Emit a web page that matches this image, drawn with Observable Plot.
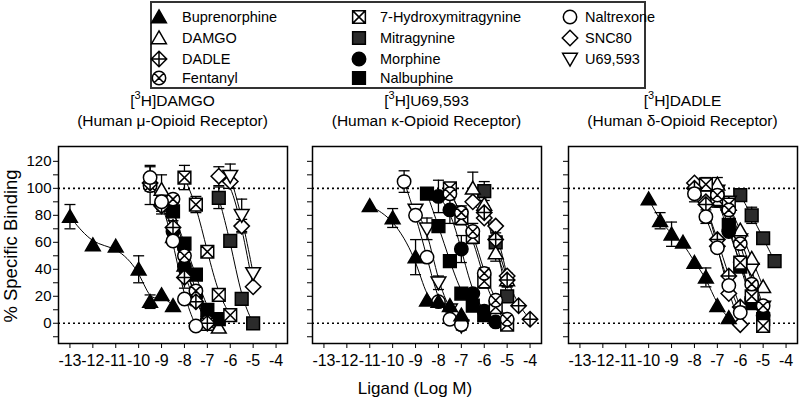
<!DOCTYPE html>
<html><head><meta charset="utf-8">
<script src="https://cdn.jsdelivr.net/npm/d3@7"></script>
<script src="https://cdn.jsdelivr.net/npm/@observablehq/plot@0.6"></script>
<style>
body{margin:0;background:#fff;font-family:"Liberation Sans",Arial,sans-serif;color:#000;}
#root{position:relative;width:799px;height:401px;overflow:hidden;background:#fff;}
.title{position:absolute;width:260px;text-align:center;font-size:15.5px;line-height:20px;white-space:nowrap;}
.title sup{font-size:11px;line-height:0;position:relative;top:-1px;}
#legend{position:absolute;left:150px;top:1px;width:492px;height:84px;border:2px solid #333;}
.litem{position:absolute;font-size:14.5px;white-space:nowrap;line-height:16px;}
.litem svg{position:absolute;left:0;top:0;overflow:visible;}
.litem span{position:absolute;top:0;}
</style></head><body><div id="root"></div>
<script>
// ---------------- data ----------------
const xTicks = [-13, -12, -11, -10, -9, -8, -7, -6, -5, -4];
const yTicks = [-10, 0, 10, 20, 30, 40, 50, 60, 70, 80, 90, 100, 110, 120];
const yTickLabels = [0, 20, 40, 60, 80, 100, 120];
const panelTitles = [
  ["3", "H]DAMGO", "(Human μ-Opioid Receptor)"],
  ["3", "H]U69,593", "(Human κ-Opioid Receptor)"],
  ["3", "H]DADLE", "(Human δ-Opioid Receptor)"]
];
const legendCol1 = ["Buprenorphine", "DAMGO", "DADLE", "Fentanyl"];
const legendCol2 = ["7-Hydroxymitragynine", "Mitragynine", "Morphine", "Nalbuphine"];
const legendCol3 = ["Naltrexone", "SNC80", "U69,593"];
const xLabel = "Ligand (Log M)";
const yLabel = "% Specific Binding";

// [drug, log M, % specific binding, SEM]
const muData = [
  ["Buprenorphine",-13,79,9],["Buprenorphine",-12,58,0],["Buprenorphine",-11,57,0],["Buprenorphine",-10,40,10],["Buprenorphine",-9.5,16,5],["Buprenorphine",-9,21,0],["Buprenorphine",-8.5,13,0],
  ["Naltrexone",-9.5,108,9],["Naltrexone",-9,90,0],["Naltrexone",-8.5,61,3],["Naltrexone",-8,18,0],["Naltrexone",-7.5,-2,0],
  ["Fentanyl",-9.5,102,14],["Fentanyl",-9,88,5],["Fentanyl",-8.5,92,3],["Fentanyl",-8,50,4],["Fentanyl",-7.5,24,3],["Fentanyl",-7,1,0],
  ["DAMGO",-9,99,11],["DAMGO",-8.5,64,4],["DAMGO",-8,43,5],["DAMGO",-7.5,18,4],["DAMGO",-7,-1,3],["DAMGO",-6.5,-3,0],
  ["DADLE",-9.5,104,6],["DADLE",-9,87,6],["DADLE",-8.5,71,5],["DADLE",-8,34,8],["DADLE",-7.5,16,3],["DADLE",-7,0,3],
  ["Morphine",-8.5,68,3],["Morphine",-8,42,4],["Morphine",-7.5,20,3],["Morphine",-7,3,0],
  ["Nalbuphine",-8.5,83,4],["Nalbuphine",-8,59,3],["Nalbuphine",-7.5,36,3],["Nalbuphine",-7,10,0],["Nalbuphine",-6.5,3,0],
  ["7-Hydroxymitragynine",-8,108,9],["7-Hydroxymitragynine",-7.5,88,6],["7-Hydroxymitragynine",-7,53,0],["7-Hydroxymitragynine",-6.5,21,0],["7-Hydroxymitragynine",-6,6,0],
  ["Mitragynine",-6.5,93,8],["Mitragynine",-6,61,0],["Mitragynine",-5.5,18,0],["Mitragynine",-5,0,0],
  ["SNC80",-6.5,109,7],["SNC80",-6,105,0],["SNC80",-5.5,72,5],["SNC80",-5,27,0],
  ["U69,593",-6,109,9],["U69,593",-5.5,80,12],["U69,593",-5,37,0]
];
const kappaData = [
  ["Buprenorphine",-11,87,0],["Buprenorphine",-10,78,7],["Buprenorphine",-9,49,13],["Buprenorphine",-8.5,17,0],["Buprenorphine",-8,16,0],["Buprenorphine",-7.5,13,0],["Buprenorphine",-7,6,0],
  ["Naltrexone",-9.5,105,8],["Naltrexone",-9,80,0],["Naltrexone",-8.5,49,0],["Naltrexone",-8,16,0],["Naltrexone",-7.5,3,0],["Naltrexone",-7,-1,0],
  ["U69,593",-9,84,0],["U69,593",-8.5,70,8],["U69,593",-8,30,5],["U69,593",-7.5,10,0],["U69,593",-7,-2,3],
  ["Nalbuphine",-8.5,96,0],["Nalbuphine",-8,72,0],["Nalbuphine",-7.5,46,0],["Nalbuphine",-7,22,0],["Nalbuphine",-6.5,13,0],["Nalbuphine",-6,6,0],
  ["Morphine",-8,94,12],["Morphine",-7.5,84,10],["Morphine",-7,55,10],["Morphine",-6.5,22,0],["Morphine",-6,9,0],["Morphine",-5.5,1,0],
  ["Fentanyl",-7.5,96,4],["Fentanyl",-7,82,5],["Fentanyl",-6.5,68,6],["Fentanyl",-6,37,4],["Fentanyl",-5.5,17,3],["Fentanyl",-5,3,0],
  ["7-Hydroxymitragynine",-7.5,100,3],["7-Hydroxymitragynine",-7,78,5],["7-Hydroxymitragynine",-6.5,64,5],["7-Hydroxymitragynine",-6,31,5],["7-Hydroxymitragynine",-5.5,12,3],["7-Hydroxymitragynine",-5,-1,0],
  ["DAMGO",-6.5,100,12],["DAMGO",-6,88,10],["DAMGO",-5.5,52,6],["DAMGO",-5,32,5],
  ["DADLE",-6,82,5],["DADLE",-5.5,62,5],["DADLE",-5,32,5],["DADLE",-4.5,13,0],["DADLE",-4,3,0],
  ["SNC80",-6.5,90,0],["SNC80",-6,78,0],["SNC80",-5.5,72,0],["SNC80",-5,35,0],
  ["Mitragynine",-6,98,7],["Mitragynine",-5.5,60,0],["Mitragynine",-5,20,0]
];
const deltaData = [
  ["Buprenorphine",-10,92,0],["Buprenorphine",-9.5,76,6],["Buprenorphine",-9,66,9],["Buprenorphine",-8.5,60,0],["Buprenorphine",-8,45,0],["Buprenorphine",-7.5,34,7],["Buprenorphine",-7,13,0],["Buprenorphine",-6.5,4,0],
  ["SNC80",-8,104,0],["SNC80",-7.5,90,0],["SNC80",-7,57,0],["SNC80",-6.5,22,0],["SNC80",-6,-1,0],
  ["Naltrexone",-8,96,6],["Naltrexone",-7.5,79,5],["Naltrexone",-7,56,0],["Naltrexone",-6.5,28,0],["Naltrexone",-6,8,0],
  ["DADLE",-8,100,0],["DADLE",-7.5,88,0],["DADLE",-7,62,0],["DADLE",-6.5,35,0],["DADLE",-6,12,0],
  ["7-Hydroxymitragynine",-7.5,103,5],["7-Hydroxymitragynine",-7,92,0],["7-Hydroxymitragynine",-6.5,88,0],["7-Hydroxymitragynine",-6,45,0],["7-Hydroxymitragynine",-5.5,20,0],["7-Hydroxymitragynine",-5,-2,0],
  ["DAMGO",-7,103,5],["DAMGO",-6.5,88,0],["DAMGO",-6,69,0],["DAMGO",-5.5,48,0],["DAMGO",-5,27,0],
  ["Nalbuphine",-7,93,7],["Nalbuphine",-6.5,73,0],["Nalbuphine",-6,42,0],["Nalbuphine",-5.5,15,0],["Nalbuphine",-5,3,0],
  ["Morphine",-7,91,0],["Morphine",-6.5,68,0],["Morphine",-6,45,0],["Morphine",-5.5,18,0],["Morphine",-5,6,0],
  ["Fentanyl",-7,95,0],["Fentanyl",-6.5,84,0],["Fentanyl",-6,59,0],["Fentanyl",-5.5,29,0],["Fentanyl",-5,13,0],
  ["U69,593",-7,98,0],["U69,593",-6.5,90,0],["U69,593",-6,62,0],["U69,593",-5.5,40,0],["U69,593",-5,12,0],
  ["Mitragynine",-6,95,0],["Mitragynine",-5.5,80,6],["Mitragynine",-5,63,0],["Mitragynine",-4.5,46,0]
];

// ---------------- symbols ----------------
const R = s => Math.sqrt(s / Math.PI);
function circ(c, r){ c.moveTo(r, 0); c.arc(0, 0, r, 0, 2 * Math.PI); }
function sq(c, h){ c.moveTo(-h,-h); c.lineTo(h,-h); c.lineTo(h,h); c.lineTo(-h,h); c.closePath(); }
function dia(c, h){ c.moveTo(0,-h); c.lineTo(h,0); c.lineTo(0,h); c.lineTo(-h,0); c.closePath(); }
const sym = {
  triUp: {draw(c,s){const r=R(s); c.moveTo(0,-r*1.05); c.lineTo(r*1.1,r*0.85); c.lineTo(-r*1.1,r*0.85); c.closePath();}},
  triDown: {draw(c,s){const r=R(s); c.moveTo(0,r*1.05); c.lineTo(r*1.1,-r*0.85); c.lineTo(-r*1.1,-r*0.85); c.closePath();}},
  square: {draw(c,s){sq(c, R(s)*0.95);}},
  squareX: {draw(c,s){const h=R(s)*0.95; sq(c,h); c.moveTo(-h,-h); c.lineTo(h,h); c.moveTo(h,-h); c.lineTo(-h,h);}},
  circle: {draw(c,s){circ(c, R(s));}},
  circleX: {draw(c,s){const r=R(s), a=r*0.707; circ(c,r); c.moveTo(-a,-a); c.lineTo(a,a); c.moveTo(a,-a); c.lineTo(-a,a);}},
  diamond: {draw(c,s){dia(c, R(s)*1.15);}},
  diamondPlus: {draw(c,s){const h=R(s)*1.15; dia(c,h); c.moveTo(-h,0); c.lineTo(h,0); c.moveTo(0,-h); c.lineTo(0,h);}},
  cap: {draw(c,s){const r=R(s); c.moveTo(-r,0); c.lineTo(r,0);}}
};
const drugStyle = {
  "Buprenorphine": {symbol: sym.triUp, fill: "#000"},
  "DAMGO": {symbol: sym.triUp, fill: "#fff"},
  "DADLE": {symbol: sym.diamondPlus, fill: "#fff"},
  "Fentanyl": {symbol: sym.circleX, fill: "#fff"},
  "7-Hydroxymitragynine": {symbol: sym.squareX, fill: "#fff"},
  "Mitragynine": {symbol: sym.square, fill: "#2b2b2b"},
  "Morphine": {symbol: sym.circle, fill: "#000"},
  "Nalbuphine": {symbol: sym.square, fill: "#000"},
  "Naltrexone": {symbol: sym.circle, fill: "#fff"},
  "SNC80": {symbol: sym.diamond, fill: "#fff"},
  "U69,593": {symbol: sym.triDown, fill: "#fff"}
};
const drawOrder = ["Mitragynine","SNC80","U69,593","DAMGO","Morphine","Nalbuphine","7-Hydroxymitragynine","Fentanyl","DADLE","Naltrexone","Buprenorphine"];

// ---------------- panels ----------------
const root = document.getElementById("root");
const FONT = '"Liberation Sans", Arial, sans-serif';
const toRows = arr => arr.map(([drug, x, y, sem]) => ({drug, x, y, sem}));

function panel(arr, showLabels, ml, mr, w){
  const rows = toRows(arr);
  const errs = rows.filter(d => d.sem > 0);
  const marks = [
    Plot.ruleY([0, 100], {stroke: "#000", strokeWidth: 1.7, strokeDasharray: "2,3"}),
    Plot.line(rows, {x: "x", y: "y", z: "drug", curve: "basis", stroke: "#000", strokeWidth: 1}),
    Plot.ruleX(errs, {x: "x", y1: d => d.y - d.sem, y2: d => d.y + d.sem, stroke: "#000", strokeWidth: 1.3}),
    Plot.dot(errs, {x: "x", y: d => d.y + d.sem, r: 5.5, symbol: sym.cap, stroke: "#000", strokeWidth: 1.3}),
    Plot.dot(errs, {x: "x", y: d => d.y - d.sem, r: 5.5, symbol: sym.cap, stroke: "#000", strokeWidth: 1.3})
  ];
  for (const drug of drawOrder) {
    const st = drugStyle[drug];
    marks.push(Plot.dot(rows.filter(d => d.drug === drug), {x: "x", y: "y", r: 6.7, symbol: st.symbol, fill: st.fill, stroke: "#000", strokeWidth: 1.5}));
  }
  marks.push(
    Plot.frame({stroke: "#000", strokeWidth: 1.5}),
    Plot.axisX({ticks: xTicks, tickSize: 5, tickPadding: 6, tickFormat: d => String(d), label: null}),
    Plot.axisY({ticks: yTicks, tickSize: 5, tickPadding: 2, label: null,
      tickFormat: d => (showLabels && yTickLabels.includes(d)) ? String(d) : ""})
  );
  const el = Plot.plot({
    width: w, height: 245, marginTop: 16, marginBottom: 32, marginLeft: ml, marginRight: mr,
    x: {domain: [-13.5, -3.5]}, y: {domain: [-15, 131]},
    style: {fontFamily: FONT, fontSize: "15px", color: "#000", background: "transparent", overflow: "visible"},
    marks
  });
  d3.select(el).selectAll("text").style("font-family", FONT).style("font-size", "15px");
  d3.select(el).selectAll("g[aria-label='x-axis tick label'] text").style("font-size", "16px");
  return el;
}
const panels = [
  {data: muData, left: 0, ml: 58, mr: 8, w: 295, show: true},
  {data: kappaData, left: 300, ml: 12, mr: 8, w: 249, show: false},
  {data: deltaData, left: 555, ml: 13, mr: 2, w: 244, show: false}
];
panels.forEach((p, i) => {
  const el = panel(p.data, p.show, p.ml, p.mr, p.w);
  el.style.position = "absolute";
  el.style.left = p.left + "px";
  el.style.top = "130px";
  root.appendChild(el);
  const cx = p.left + p.ml + (p.w - p.ml - p.mr) / 2;
  const t = document.createElement("div");
  t.className = "title";
  t.style.left = (cx - 130) + "px";
  t.style.top = "91px";
  const [sup, rest, line2] = panelTitles[i];
  t.innerHTML = `[<sup>${sup}</sup>${rest}<br>${line2}`;
  root.appendChild(t);
});

// axis labels
const svg = d3.select(root).append("svg").attr("width", 799).attr("height", 401)
  .style("position", "absolute").style("left", 0).style("top", 0).style("pointer-events", "none");
svg.append("text").attr("x", 415).attr("y", 394).attr("text-anchor", "middle")
  .attr("font-family", FONT).attr("font-size", 17).text(xLabel);
svg.append("text").attr("transform", "translate(17,246) rotate(-90)").attr("text-anchor", "middle")
  .attr("font-family", FONT).attr("font-size", 18.5).text(yLabel);

// legend
const legend = document.createElement("div");
legend.id = "legend";
root.appendChild(legend);
const colSym = [7, 207, 418], colText = [30, 228, 433], rowY = [14, 35, 56, 75];
[legendCol1, legendCol2, legendCol3].forEach((col, ci) => {
  col.forEach((drug, ri) => {
    const it = document.createElement("div");
    it.className = "litem";
    it.style.left = (colSym[ci]) + "px";
    it.style.top = (rowY[ri] - 8) + "px";
    const st = drugStyle[drug];
    const d = d3.symbol(st.symbol, 6.7 * 6.7 * Math.PI)();
    it.innerHTML = `<svg width="16" height="16"><path transform="translate(0,8)" d="${d}" fill="${st.fill}" stroke="#000" stroke-width="1.5"></path></svg><span style="left:${colText[ci] - colSym[ci]}px">${drug}</span>`;
    legend.appendChild(it);
  });
});
</script></body></html>
